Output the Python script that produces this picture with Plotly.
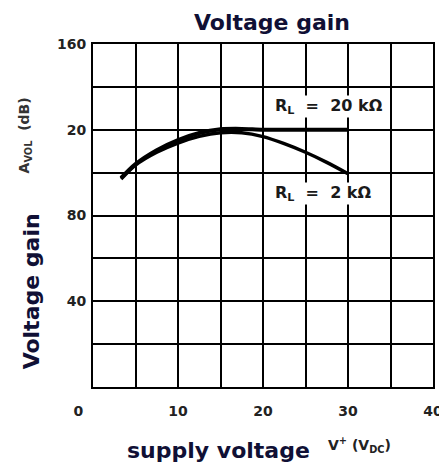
import plotly.graph_objects as go

# Data
x_20k = [3.3, 5, 7.5, 10, 12.5, 15, 17.5, 20, 25, 30]
y_20k = [97.5, 104, 110.5, 115.2, 118.5, 120.2, 120.4, 120, 120, 120]
x_2k = [3.3, 5, 7.5, 10, 12.5, 15, 17.5, 20, 22.5, 25, 27.5, 30]
y_2k = [97, 103.5, 109.5, 113.8, 116.9, 118.6, 118.6, 116.8, 113.5, 109.5, 104.8, 99.5]

x_ticks = [0, 5, 10, 15, 20, 25, 30, 35, 40]
x_tick_text = ["0&nbsp;&nbsp;&nbsp;&nbsp;&nbsp;&nbsp;", "", "10", "", "20", "", "30", "", "40"]
y_ticks = [0, 20, 40, 60, 80, 100, 120, 140, 160]
y_tick_text = ["", "", "40", "", "80", "", "20", "", "160"]

title_color = "#101035"
tick_color = "#222222"
BOLD = "DejaVu Sans, Verdana, sans-serif"

# page offset (body margin) and plot area in reference pixels
OFF = 8
PL, PR, PT, PB = 93, 435, 44, 387
W, H = 447, 466

def px_to_paper(px, py):
    return (px - PL) / (PR - PL), (PB - py) / (PB - PT)

fig = go.Figure()
fig.add_trace(go.Scatter(x=x_20k, y=y_20k, mode="lines",
                         line=dict(color="black", width=4, shape="spline", smoothing=0.8),
                         showlegend=False, hoverinfo="skip"))
fig.add_trace(go.Scatter(x=x_2k, y=y_2k, mode="lines",
                         line=dict(color="black", width=3.5, shape="spline", smoothing=0.8),
                         showlegend=False, hoverinfo="skip"))

fig.update_layout(
    width=W, height=H,
    margin=dict(l=PL - OFF, r=W - (PR - OFF), t=PT - OFF, b=H - (PB - OFF)),
    paper_bgcolor="white", plot_bgcolor="white",
    font=dict(family=BOLD, color=tick_color),
    title=dict(text="<b>Voltage gain</b>", x=(272 - OFF) / W, xanchor="center",
               y=1 - (22 - OFF) / H, yanchor="middle",
               font=dict(size=22, color=title_color, family=BOLD)),
)
axis_common = dict(showgrid=True, gridcolor="black", gridwidth=2,
                   showline=True, linecolor="black", linewidth=2, mirror=True,
                   zeroline=False, ticks="", ticklen=0,
                   tickfont=dict(size=14, color=tick_color, family=BOLD, weight="bold"))
fig.update_xaxes(range=[0, 40], tickvals=x_ticks, ticktext=x_tick_text,
                 ticklabelstandoff=10, **axis_common)
fig.update_yaxes(range=[0, 160], tickvals=y_ticks, ticktext=y_tick_text,
                 ticklabelstandoff=2, **axis_common)


def label(px, py, text, size, color, angle=0, bg=None):
    ax, ay = px_to_paper(px, py)
    fig.add_annotation(x=ax, y=ay, xref="paper", yref="paper", showarrow=False,
                       xanchor="center", yanchor="middle", text=text,
                       textangle=angle, font=dict(size=size, color=color, family=BOLD),
                       bgcolor=bg, borderpad=0)


label(330, 106, "<b>R<sub>L</sub>&nbsp;&nbsp;=&nbsp;&nbsp;20 kΩ</b>", 16, "#1a1a1a", bg="white")
label(325, 193, "<b>R<sub>L</sub>&nbsp;&nbsp;=&nbsp;&nbsp;2 kΩ</b>", 16, "#1a1a1a", bg="white")

# Axis titles
label(25, 135, "<b>A<sub>VOL</sub>&nbsp;&nbsp;(dB)</b>", 14, "#333333", angle=-90)
label(31, 291, "<b>Voltage gain</b>", 22, title_color, angle=-90)
label(219, 450, "<b>supply voltage</b>", 22, title_color)
label(361, 445, "<b>V<sup>+</sup> (V<sub>DC</sub>)</b>", 14, "#222222")

fig.write_html("out.html")
